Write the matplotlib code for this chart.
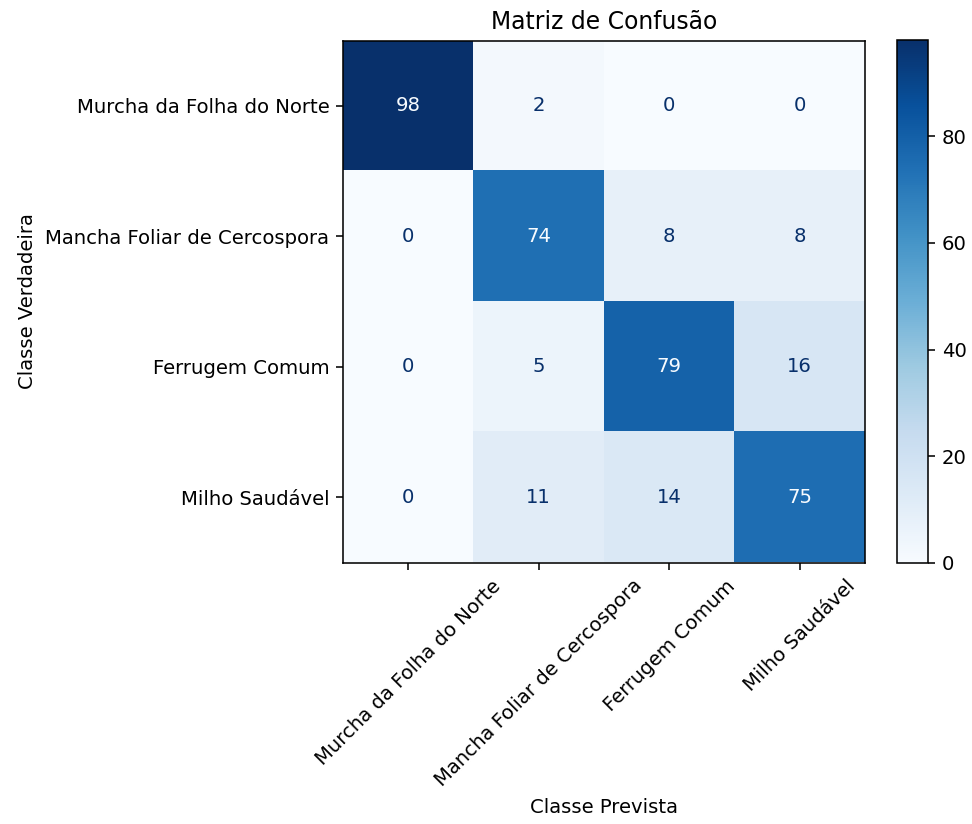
import matplotlib
matplotlib.use("Agg")
import matplotlib.pyplot as plt
import numpy as np

labels = ["Murcha da Folha do Norte", "Mancha Foliar de Cercospora", "Ferrugem Comum", "Milho Saudável"]
row_murcha = [98, 2, 0, 0]
row_mancha = [0, 74, 8, 8]
row_ferrugem = [0, 5, 79, 16]
row_milho = [0, 11, 14, 75]

cm = np.array([row_murcha, row_mancha, row_ferrugem, row_milho])

DPI = 141
fig = plt.figure(figsize=(972/DPI, 824/DPI), dpi=DPI)
ax = fig.add_axes([343/972, 1-563/824, 522/972, 523/824])
cax = fig.add_axes([897/972, 1-563/824, 31/972, 523/824])

cmap = plt.cm.Blues
im = ax.imshow(cm, interpolation="nearest", cmap=cmap)
thresh = (cm.max() + cm.min()) / 2.0
cmap_min, cmap_max = cmap(0), cmap(1.0)
for i in range(cm.shape[0]):
    for j in range(cm.shape[1]):
        color = cmap_max if cm[i, j] < thresh else cmap_min
        ax.text(j, i, format(cm[i, j], "d"), ha="center", va="center", color=color)

fig.colorbar(im, cax=cax)
ax.set_xticks(np.arange(len(labels)))
ax.set_yticks(np.arange(len(labels)))
ax.set_xticklabels(labels, rotation=45)
ax.set_yticklabels(labels)
ax.set_xlabel("Classe Prevista")
ax.set_ylabel("Classe Verdadeira")
ax.set_title("Matriz de Confusão")

fig.savefig("out.png", dpi=DPI)
